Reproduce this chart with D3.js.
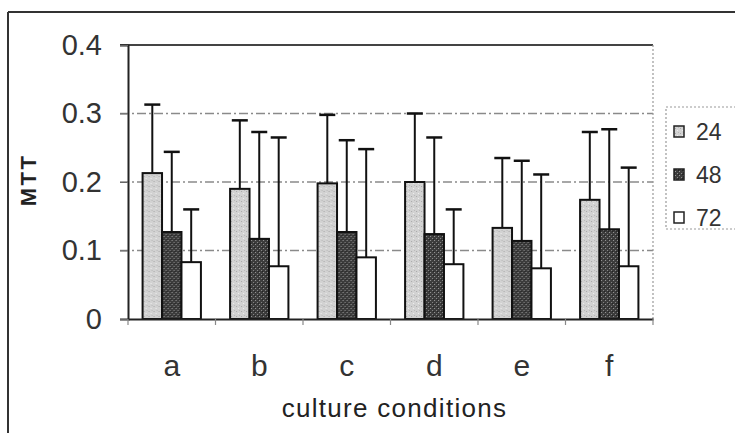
<!DOCTYPE html>
<html>
<head>
<meta charset="utf-8">
<script src="https://cdn.jsdelivr.net/npm/d3@7"></script>
<style>
	body { margin: 0; background: #fff; }
	svg { display: block; font-family: "Liberation Sans", Arial, sans-serif; }
</style>
</head>
<body>
<div id="graphicContainer"></div>
<script>

// values

var categories = ["a", "b", "c", "d", "e", "f"];
var series = ["24", "48", "72"];

var mean24 = [0.213, 0.190, 0.198, 0.200, 0.133, 0.174];
var mean48 = [0.127, 0.117, 0.127, 0.124, 0.114, 0.131];
var mean72 = [0.083, 0.077, 0.090, 0.080, 0.074, 0.077];

var err24 = [0.100, 0.100, 0.100, 0.100, 0.102, 0.099];
var err48 = [0.117, 0.156, 0.134, 0.141, 0.117, 0.146];
var err72 = [0.077, 0.188, 0.158, 0.080, 0.137, 0.144];

var yTicks = [0, 0.1, 0.2, 0.3, 0.4];

var means = {"24": mean24, "48": mean48, "72": mean72};
var errs = {"24": err24, "48": err48, "72": err72};

var width = 735, height = 433;
var margin = {top: 45, right: 75, bottom: 114, left: 128};

var svg = d3.select("#graphicContainer").append("svg")
	.attr("width", width)
	.attr("height", height);

// fill textures for the bars

var defs = svg.append("defs");

var p24 = defs.append("pattern")
	.attr("id", "pat24")
	.attr("patternUnits", "userSpaceOnUse")
	.attr("width", 5).attr("height", 5);
p24.append("rect").attr("width", 5).attr("height", 5).attr("fill", "#d2d2d2");
p24.append("rect").attr("x", 1).attr("y", 1).attr("width", 1).attr("height", 1).attr("fill", "#a8a8a8");
p24.append("rect").attr("x", 3).attr("y", 3).attr("width", 1).attr("height", 1).attr("fill", "#efefef");
p24.append("rect").attr("x", 4).attr("y", 0).attr("width", 1).attr("height", 1).attr("fill", "#b8b8b8");

var p48 = defs.append("pattern")
	.attr("id", "pat48")
	.attr("patternUnits", "userSpaceOnUse")
	.attr("width", 4).attr("height", 4);
p48.append("rect").attr("width", 4).attr("height", 4).attr("fill", "#3c3c3c");
p48.append("rect").attr("x", 1).attr("y", 0).attr("width", 1).attr("height", 1).attr("fill", "#9a9a9a");
p48.append("rect").attr("x", 3).attr("y", 2).attr("width", 1).attr("height", 1).attr("fill", "#8a8a8a");
p48.append("rect").attr("x", 0).attr("y", 3).attr("width", 1).attr("height", 1).attr("fill", "#222");

var fills = {"24": "url(#pat24)", "48": "url(#pat48)", "72": "#fff"};

// outer frame of the chart

svg.append("line")
	.attr("x1", 8).attr("x2", width).attr("y1", 12).attr("y2", 12)
	.attr("stroke", "#333").attr("stroke-width", 2);
svg.append("line")
	.attr("x1", 8).attr("x2", 8).attr("y1", 12).attr("y2", height)
	.attr("stroke", "#333").attr("stroke-width", 2);

// scales

var plotRight = width - margin.right - 7;

var x0 = d3.scaleBand()
	.domain(categories)
	.range([margin.left, plotRight])
	.paddingInner(1/3)
	.paddingOuter(1/6);

var x1 = d3.scaleBand()
	.domain(series)
	.range([0, x0.bandwidth()]);

var y = d3.scaleLinear()
	.domain([0, 0.4])
	.range([319, margin.top]);

// gridlines

svg.append("g")
	.selectAll("line")
	.data(yTicks.filter(d => d > 0 && d < 0.4))
	.enter()
	.append("line")
	.attr("x1", margin.left - 8)
	.attr("x2", plotRight)
	.attr("y1", d => y(d))
	.attr("y2", d => y(d))
	.attr("stroke", "#8a8a8a")
	.attr("stroke-width", 1.5)
	.attr("stroke-dasharray", "9,3,2,3");

// plot area frame

svg.append("line")
	.attr("x1", margin.left - 8).attr("x2", plotRight)
	.attr("y1", y(0.4)).attr("y2", y(0.4))
	.attr("stroke", "#444").attr("stroke-width", 2);
svg.append("line")
	.attr("x1", plotRight).attr("x2", plotRight)
	.attr("y1", y(0.4)).attr("y2", y(0))
	.attr("stroke", "#999").attr("stroke-width", 1.2)
	.attr("stroke-dasharray", "2,2");

// y axis

var yAxis = svg.append("g")
	.attr("transform", `translate(${margin.left},0)`)
	.call(d3.axisLeft(y).tickValues(yTicks).tickSize(8).tickPadding(18)
		.tickFormat(d => d === 0 ? "0" : d3.format(".1f")(d)));
yAxis.select(".domain").attr("stroke", "#222").attr("stroke-width", 2);
yAxis.selectAll(".tick line").attr("stroke", "#666");
yAxis.selectAll("text")
	.attr("font-size", 29)
	.attr("fill", "#333")
	.attr("font-family", "\"Liberation Sans\", Arial, sans-serif");

// bars

var groups = svg.append("g")
	.selectAll("g")
	.data(categories)
	.enter()
	.append("g")
	.attr("transform", d => `translate(${x0(d)},0)`);

var items = groups.selectAll("g")
	.data((c, i) => series.map(s => ({key: s, value: means[s][i], err: errs[s][i]})))
	.enter()
	.append("g");

// error bars first so the line hides behind the bar

items.append("line")
	.attr("x1", d => x1(d.key) + x1.bandwidth() / 2)
	.attr("x2", d => x1(d.key) + x1.bandwidth() / 2)
	.attr("y1", d => y(d.value))
	.attr("y2", d => y(d.value + d.err))
	.attr("stroke", "#111")
	.attr("stroke-width", 2);

items.append("line")
	.attr("x1", d => x1(d.key) + x1.bandwidth() / 2 - 8)
	.attr("x2", d => x1(d.key) + x1.bandwidth() / 2 + 8)
	.attr("y1", d => y(d.value + d.err))
	.attr("y2", d => y(d.value + d.err))
	.attr("stroke", "#111")
	.attr("stroke-width", 2.5);

items.append("rect")
	.attr("x", d => x1(d.key))
	.attr("y", d => y(d.value))
	.attr("width", x1.bandwidth())
	.attr("height", d => y(0) - y(d.value))
	.attr("fill", d => fills[d.key])
	.attr("stroke", "#111")
	.attr("stroke-width", 2);

// x axis

var xAxis = svg.append("g")
	.attr("transform", `translate(0,${y(0)})`)
	.call(d3.axisBottom(x0).tickSize(0).tickPadding(36));
xAxis.select(".domain").attr("stroke", "#222").attr("stroke-width", 2);
xAxis.selectAll("text")
	.attr("font-size", 30)
	.attr("fill", "#333")
	.attr("font-family", "\"Liberation Sans\", Arial, sans-serif");

// small ticks between the categories

svg.append("g")
	.selectAll("line")
	.data(categories.concat(["end"]))
	.enter()
	.append("line")
	.attr("x1", (d, i) => margin.left + i * x0.step())
	.attr("x2", (d, i) => margin.left + i * x0.step())
	.attr("y1", y(0))
	.attr("y2", y(0) + 6)
	.attr("stroke", "#888")
	.attr("stroke-width", 1.2);

// axis titles

svg.append("text")
	.attr("x", (margin.left + plotRight) / 2 + 4)
	.attr("y", 417)
	.attr("text-anchor", "middle")
	.attr("font-size", 26)
	.attr("letter-spacing", 1.3)
	.attr("fill", "#222")
	.text("culture conditions");

svg.append("text")
	.attr("transform", "translate(36,180) rotate(-90)")
	.attr("text-anchor", "middle")
	.attr("font-size", 22)
	.attr("font-weight", "bold")
	.attr("letter-spacing", 2.5)
	.attr("fill", "#222")
	.text("MTT");

// legend

var legend = svg.append("g");

legend.append("rect")
	.attr("x", 666).attr("y", 107)
	.attr("width", 80).attr("height", 122)
	.attr("fill", "#fff")
	.attr("stroke", "#999")
	.attr("stroke-width", 1.2)
	.attr("stroke-dasharray", "2,2");

var li = legend.selectAll("g")
	.data(series)
	.enter()
	.append("g")
	.attr("transform", (d, i) => `translate(674,${132 + i * 43})`);

li.append("rect")
	.attr("x", 0).attr("y", -6)
	.attr("width", 10).attr("height", 11)
	.attr("fill", d => fills[d])
	.attr("stroke", "#222")
	.attr("stroke-width", 1.5);

li.append("text")
	.attr("x", 22)
	.attr("y", 0)
	.attr("dy", "0.35em")
	.attr("font-size", 23)
	.attr("fill", "#333")
	.text(d => d);

</script>
</body>
</html>
